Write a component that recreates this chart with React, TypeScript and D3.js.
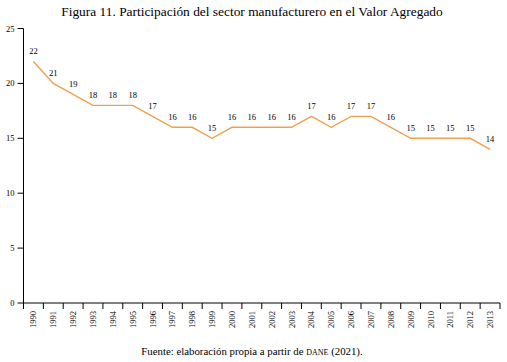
import React from "react";
import * as d3 from "d3";

const years = ["1990","1991","1992","1993","1994","1995","1996","1997","1998","1999","2000","2001","2002","2003","2004","2005","2006","2007","2008","2009","2010","2011","2012","2013"];
const values = [22, 20, 19, 18, 18, 18, 17, 16, 16, 15, 16, 16, 16, 16, 17, 16, 17, 17, 16, 15, 15, 15, 15, 14];
const labels = ["22","21","19","18","18","18","17","16","16","15","16","16","16","16","17","16","17","17","16","15","15","15","15","14"];
const yTicks = [0, 5, 10, 15, 20, 25];

const W = 507, H = 362;
const FONT = "'Liberation Serif', 'Times New Roman', serif";

export default function App() {
  const x = d3.scaleBand<string>().domain(years).range([23.5, 500]);
  const y = d3.scaleLinear().domain([0, 25]).range([303, 28.5]);
  const line = d3.line<number>()
    .x((_, i) => (x(years[i]) as number) + x.bandwidth() / 2)
    .y((d) => y(d));
  const x0 = 23.5;
  return (
    <svg width={W} height={H} style={{ position: "absolute", left: 0, top: 0, background: "#fff" }}>
      <text x={252} y={16} textAnchor="middle" fontFamily={FONT} fontSize={13.4} fill="#000">
        Figura 11. Participación del sector manufacturero en el Valor Agregado
      </text>
      {/* y axis */}
      <line x1={x0} x2={x0} y1={y(25)} y2={y(0) + 6} stroke="#000" strokeWidth={1} />
      {yTicks.map((t) => (
        <g key={t}>
          <line x1={x0 - 6} x2={x0} y1={y(t)} y2={y(t)} stroke="#000" />
          <text x={x0 - 9} y={y(t) + 3} textAnchor="end" fontFamily={FONT} fontSize={8.5} fill="#000">{t}</text>
        </g>
      ))}
      {/* x axis */}
      <line x1={x0} x2={500} y1={y(0)} y2={y(0)} stroke="#000" />
      {years.map((yr) => {
        const bx = x(yr) as number;
        const cx = bx + x.bandwidth() / 2;
        return (
          <g key={yr}>
            <line x1={bx + x.bandwidth()} x2={bx + x.bandwidth()} y1={y(0)} y2={y(0) + 6} stroke="#000" />
            <text transform={`translate(${cx + 3},${y(0) + 8}) rotate(-90)`} textAnchor="end" fontFamily={FONT} fontSize={8.5} fill="#000">{yr}</text>
          </g>
        );
      })}
      <path d={line(values) || ""} fill="none" stroke="#F0A050" strokeWidth={1.4} />
      {values.map((v, i) => (
        <text key={i} x={(x(years[i]) as number) + x.bandwidth() / 2} y={y(v) - 7} textAnchor="middle" fontFamily={FONT} fontSize={8.5} fill="#000">{labels[i]}</text>
      ))}
      <text x={252} y={355} textAnchor="middle" fontFamily={FONT} fontSize={10.8} fill="#000">
        Fuente: elaboración propia a partir de <tspan fontSize={8}>DANE</tspan> (2021).
      </text>
    </svg>
  );
}
